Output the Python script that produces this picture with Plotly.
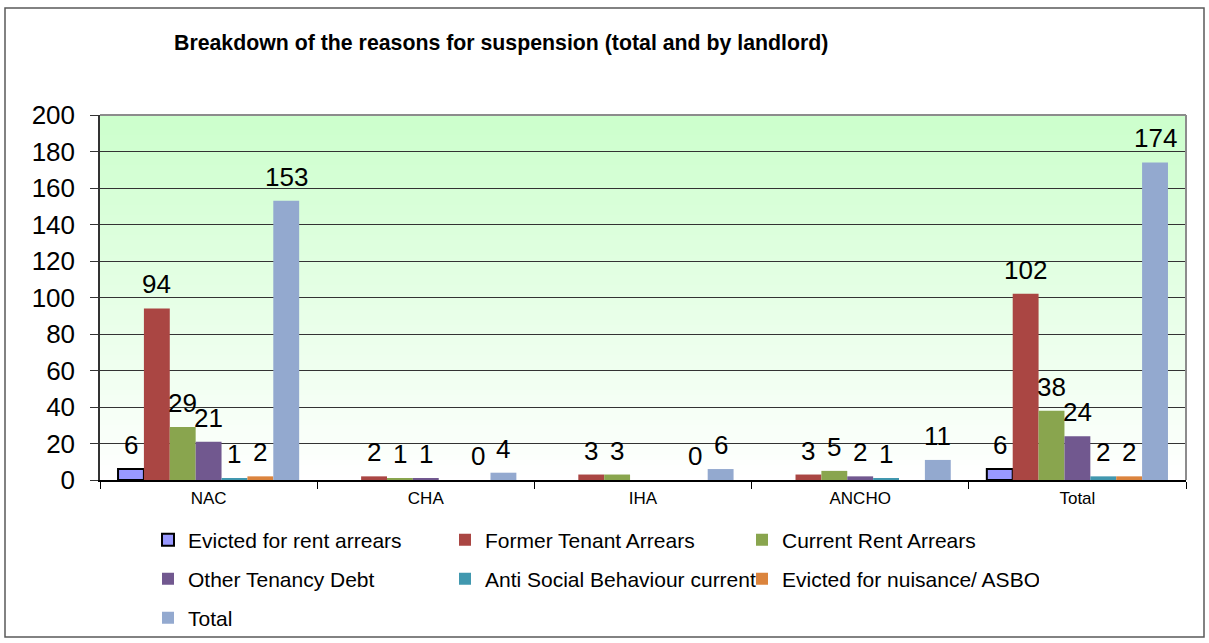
import plotly.graph_objects as go

# Landlord groups along the x axis
landlords = ["NAC", "CHA", "IHA", "ANCHO", "Total"]

# Suspension counts per reason (None = no entry for that landlord)
evicted_rent_arrears = [6, None, None, None, 6]
former_tenant_arrears = [94, 2, 3, 3, 102]
current_rent_arrears = [29, 1, 3, 5, 38]
other_tenancy_debt = [21, 1, None, 2, 24]
asb_current = [1, None, None, 1, 2]
evicted_nuisance_asbo = [2, 0, 0, None, 2]
total_suspensions = [153, 4, 6, 11, 174]

series_names = [
    "Evicted for rent arrears",
    "Former Tenant Arrears",
    "Current Rent Arrears",
    "Other Tenancy Debt",
    "Anti Social Behaviour current",
    "Evicted for nuisance/ ASBO",
    "Total",
]
series_values = [
    evicted_rent_arrears,
    former_tenant_arrears,
    current_rent_arrears,
    other_tenancy_debt,
    asb_current,
    evicted_nuisance_asbo,
    total_suspensions,
]
series_colors = ["#9999FF", "#AA4643", "#89A54E", "#71588F", "#4198AF", "#DB843D", "#93A9CF"]

y_ticks = list(range(0, 201, 20))

FONT = "Liberation Sans, Arial, sans-serif"

# Page geometry (pixels)
W, H = 1209, 643
ML, MR, MT, MB = 100, 23, 115, 163
PW, PH = W - ML - MR, H - MT - MB
BARGAP = 0.166


def px_x(p):
    return (p - ML) / PW


def px_y(p):
    return (H - MB - p) / PH


fig = go.Figure()

# Legend laid out in rows of three entries
legend_ids = ["legend", "legend2", "legend3"]

for i, (name, vals, col) in enumerate(zip(series_names, series_values, series_colors)):
    line = dict(color="black", width=2) if name == "Evicted for rent arrears" else dict(width=0)
    fig.add_trace(go.Bar(
        name=name, x=landlords, y=vals,
        marker=dict(color=col, line=line),
        hoverinfo="x+y+name",
        legend=legend_ids[i // 3],
    ))

# Value labels above each bar
n = len(series_names)
group_px = PW / len(landlords)
bar_px = group_px * (1 - BARGAP) / n
annotations = []
for i, vals in enumerate(series_values):
    for cat, v in zip(landlords, vals):
        if v is None:
            continue
        annotations.append(dict(
            x=cat, y=v, xref="x", yref="y", text=str(v), showarrow=False,
            xanchor="center", yanchor="bottom", yshift=7,
            xshift=(i - (n - 1) / 2) * bar_px,
            font=dict(family=FONT, size=26, color="black"),
        ))

# Chart title
annotations.append(dict(
    text="<b>Breakdown of the reasons for suspension (total and by landlord)</b>",
    xref="paper", yref="paper", x=px_x(172), y=px_y(43),
    xanchor="left", yanchor="middle", showarrow=False,
    font=dict(family=FONT, size=21.3, color="black"),
))

shapes = []
# Vertical green-to-white gradient behind the plot area
bands = 73
top = (0xCC, 0xFF, 0xCC)
for k in range(bands):
    t = k / (bands - 1)
    r = round(top[0] + (255 - top[0]) * t)
    g = round(top[1] + (255 - top[1]) * t)
    b = round(top[2] + (255 - top[2]) * t)
    shapes.append(dict(
        type="rect", xref="paper", yref="paper", layer="below",
        x0=0, x1=1, y1=1 - k / bands, y0=1 - (k + 1) / bands - 0.002,
        fillcolor=f"rgb({r},{g},{b})", line=dict(width=0),
    ))
# Grey top and right edges of the plot area
shapes.append(dict(type="line", xref="paper", yref="paper", x0=0, x1=1, y0=1, y1=1,
                   line=dict(color="#8C8C8C", width=2), layer="above"))
shapes.append(dict(type="line", xref="paper", yref="paper", x0=1, x1=1, y0=0, y1=1,
                   line=dict(color="#8C8C8C", width=2), layer="above"))
# Outer frame around the whole chart
shapes.append(dict(type="rect", xref="paper", yref="paper",
                   x0=px_x(5), x1=px_x(1204), y0=px_y(637), y1=px_y(8),
                   line=dict(color="#5A5A5A", width=1.5), fillcolor="rgba(0,0,0,0)"))


def legend_row(row_y):
    # Positioned in page coordinates so the plot margins stay fixed
    return dict(
        orientation="h", xref="container", yref="container",
        x=148 / W, y=1 - row_y / H, xanchor="left", yanchor="middle",
        entrywidth=252, entrywidthmode="pixels",
        font=dict(family=FONT, size=21, color="black"),
        bgcolor="rgba(0,0,0,0)", traceorder="normal", itemclick=False,
    )


fig.update_layout(
    width=W, height=H,
    margin=dict(l=ML, r=MR, t=MT, b=MB, pad=0, autoexpand=False),
    paper_bgcolor="white", plot_bgcolor="rgba(0,0,0,0)",
    barmode="group", bargap=BARGAP, bargroupgap=0,
    font=dict(family=FONT, color="black"),
    showlegend=True,
    legend=legend_row(540),
    legend2=legend_row(579),
    legend3=legend_row(618),
    annotations=annotations,
    shapes=shapes,
    xaxis=dict(
        type="category", showgrid=False, showline=True, linecolor="black", linewidth=1.5,
        ticks="outside", tickson="boundaries", ticklen=7, tickcolor="black", tickwidth=1,
        tickfont=dict(family=FONT, size=17, color="black"), zeroline=False,
        ticklabelstandoff=2,
    ),
    yaxis=dict(
        range=[0, 200], tickvals=y_ticks, showgrid=True, gridcolor="#333333", gridwidth=1,
        showline=True, linecolor="#333333", linewidth=1.5, ticks="outside", ticklen=8,
        tickcolor="#333333", tickfont=dict(family=FONT, size=26, color="black"),
        zeroline=False, ticklabelstandoff=10,
    ),
)

fig.write_html("out.html")
